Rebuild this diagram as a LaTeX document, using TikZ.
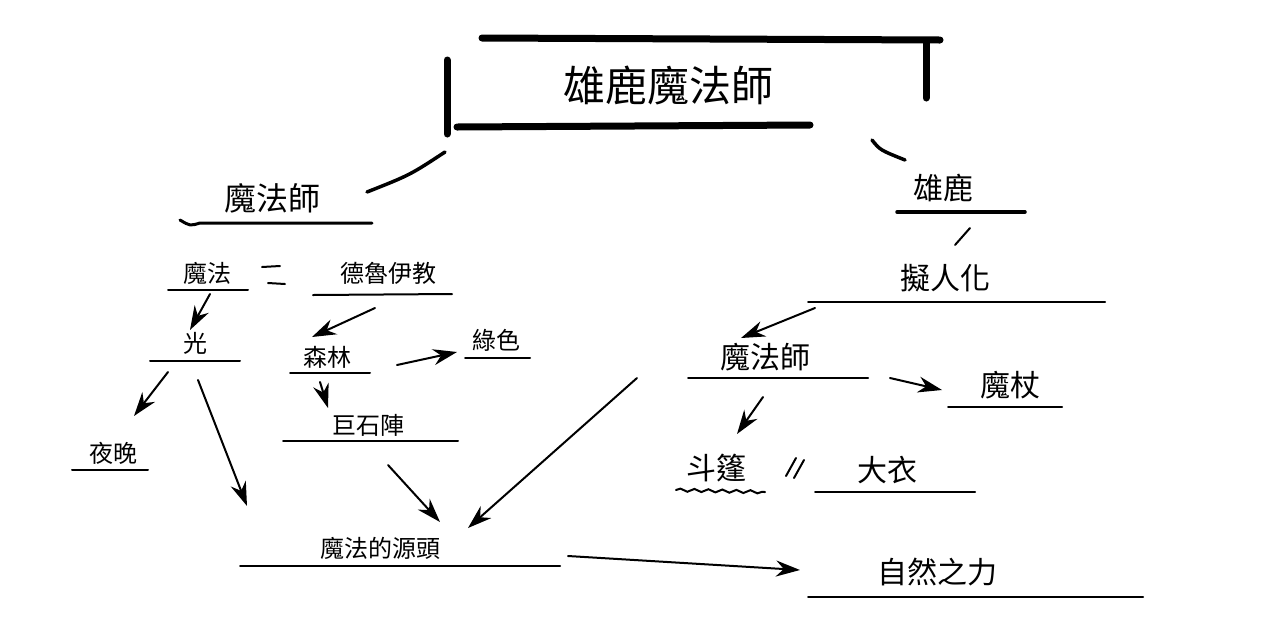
\documentclass[tikz,border=0pt]{standalone}
\usepackage{fontspec}
\newfontfamily\cjk{Noto Sans CJK TC}
\usetikzlibrary{arrows.meta,decorations.pathmorphing}
\tikzset{
  word/.style={font=\cjk\fontsize{30}{32}\selectfont, inner sep=0pt},
  small/.style={font=\cjk\fontsize{24}{26}\selectfont, inner sep=0pt},
  ink/.style={line width=2pt, line cap=round},
  bar/.style={line width=7pt, line cap=round},
  arr/.style={ink, -{Stealth[length=24pt,width=16pt]}},
}
\begin{document}
\begin{tikzpicture}[x=1pt,y=-1pt]
    \useasboundingbox (0,0) rectangle (1265,630);
    % Title frame
    \node[font=\cjk\fontsize{42}{46}\selectfont, inner sep=0pt] (title) at (668,85) {雄鹿魔法師};
    \draw[bar] (482,38) -- (940,40);
    \draw[bar] (926,42) -- (926,98);
    \draw[bar] (447,60) -- (447,134);
    \draw[bar] (457,127) -- (810,125);
    % Left branch
    \node[font=\cjk\fontsize{32}{34}\selectfont, inner sep=0pt] (wizA) at (272,198) {魔法師};
    \draw[ink, line width=3.5pt] (445,152) .. controls (410,175) .. (367,192);
    \draw[ink, line width=3pt] (180,220) .. controls (190,226) .. (200,223) -- (372,223);
    \node[small] (magic) at (207,273) {魔法};
    \draw[ink] (168,290) -- (248,290);
    \draw[ink] (262,267) -- (280,266);
    \draw[ink] (268,283) -- (285,284);
    \node[small] (druid) at (388,273) {德魯伊教};
    \draw[ink] (313,295) -- (452,294);
    \node[small] (light) at (195,343) {光};
    \draw[ink] (150,361) -- (240,361);
    \node[small] (forest) at (327,357) {森林};
    \draw[ink] (290,373) -- (370,373);
    \node[small] (green) at (496,340) {綠色};
    \draw[ink] (465,358) -- (530,358);
    \node[small] (stone) at (368,425) {巨石陣};
    \draw[ink] (283,441) -- (458,441);
    \node[small] (night) at (113,453) {夜晚};
    \draw[ink] (72,470) -- (148,470);
    \node[small] (source) at (380,548) {魔法的源頭};
    \draw[ink] (240,566) -- (560,566);
    \node[word] (nature) at (937,572) {自然之力};
    \draw[ink] (808,597) -- (1143,597);
    % Right branch
    \node[word] (stag) at (943,188) {雄鹿};
    \draw[ink, line width=3.5pt] (872,140) .. controls (880,150) .. (905,160);
    \draw[ink, line width=3.5pt] (897,212) -- (1025,212);
    \draw[ink] (970,228) -- (955,245);
    \node[word] (human) at (945,278) {擬人化};
    \draw[ink] (808,302) -- (1105,302);
    \node[word] (wizB) at (765,357) {魔法師};
    \draw[ink] (688,378) -- (868,378);
    \node[word] (staff) at (1010,385) {魔杖};
    \draw[ink] (948,407) -- (1062,407);
    \node[word] (cloak) at (716,468) {斗篷};
    \draw[ink, decorate, decoration={snake, amplitude=1.5pt, segment length=14pt}] (676,490) -- (765,492);
    \draw[ink] (786,476) -- (796,458);
    \draw[ink] (794,478) -- (804,460);
    \node[word] (coat) at (887,470) {大衣};
    \draw[ink] (815,492) -- (975,492);
    % Arrows
    \coordinate (a1) at (210,294); \coordinate (b1) at (190,330);
    \coordinate (a2) at (375,308); \coordinate (b2) at (312,337);
    \coordinate (a3) at (397,365); \coordinate (b3) at (457,352);
    \coordinate (a4) at (320,382); \coordinate (b4) at (328,408);
    \coordinate (a5) at (168,372); \coordinate (b5) at (134,416);
    \coordinate (a6) at (198,380); \coordinate (b6) at (247,506);
    \coordinate (a7) at (388,465); \coordinate (b7) at (440,522);
    \coordinate (a8) at (637,378); \coordinate (b8) at (468,528);
    \coordinate (a9) at (568,556); \coordinate (b9) at (800,570);
    \coordinate (a10) at (815,308); \coordinate (b10) at (741,338);
    \coordinate (a11) at (890,378); \coordinate (b11) at (942,390);
    \coordinate (a12) at (763,397); \coordinate (b12) at (737,434);
    \foreach \i in {1,...,12} \draw[arr] (a\i) -- (b\i);
\end{tikzpicture}
\end{document}
